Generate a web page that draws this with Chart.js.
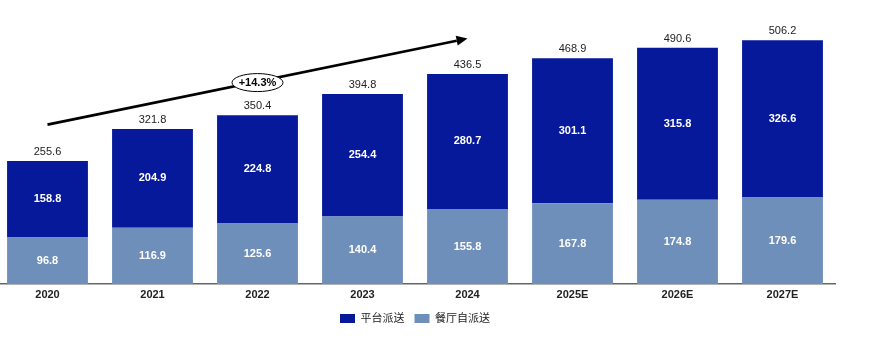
<!DOCTYPE html>
<html>
<head>
<meta charset="utf-8">
<script src="https://cdn.jsdelivr.net/npm/chart.js@4/dist/chart.umd.min.js"></script>
<style>
  html, body { margin: 0; padding: 0; background: #fff; overflow: hidden; }
  #wrap { position: absolute; left: -5px; top: 0; width: 880px; height: 342px; }
</style>
</head>
<body>
<div id="wrap"><canvas id="chart"></canvas></div>
<script>
// Data
const years = ["2020", "2021", "2022", "2023", "2024", "2025E", "2026E", "2027E"];
const restaurantSelf = [96.8, 116.9, 125.6, 140.4, 155.8, 167.8, 174.8, 179.6];
const platform = [158.8, 204.9, 224.8, 254.4, 280.7, 301.1, 315.8, 326.6];
const totals = [255.6, 321.8, 350.4, 394.8, 436.5, 468.9, 490.6, 506.2];

// CAGR arrow (category index, value)
const arrowFrom = [0, 331];
const arrowTo = [4, 510];
const cagrLabel = "+14.3%";

const DARK = "#06199B";
const LIGHT = "#6F8FBB";
const FONT = "'Liberation Sans', Arial, 'Noto Sans CJK SC', sans-serif";

// Labels inside segments and totals above bars
const labelPlugin = {
  id: "labels",
  afterDatasetsDraw(chart) {
    const ctx = chart.ctx;
    ctx.save();
    ctx.textAlign = "center";
    ctx.textBaseline = "middle";
    chart.data.datasets.forEach((ds, di) => {
      const meta = chart.getDatasetMeta(di);
      meta.data.forEach((bar, i) => {
        const mid = (bar.y + bar.base) / 2;
        ctx.fillStyle = "#fff";
        ctx.font = "bold 11px " + FONT;
        ctx.fillText(ds.data[i].toFixed(1), bar.x, mid);
      });
    });
    const top = chart.getDatasetMeta(1);
    top.data.forEach((bar, i) => {
      ctx.fillStyle = "#222";
      ctx.font = "11px " + FONT;
      ctx.fillText(totals[i].toFixed(1), bar.x, bar.y - 9);
    });

    // Arrow
    const x = chart.scales.x, y = chart.scales.y;
    const x1 = x.getPixelForValue(arrowFrom[0]), y1 = y.getPixelForValue(arrowFrom[1]);
    const x2 = x.getPixelForValue(arrowTo[0]), y2 = y.getPixelForValue(arrowTo[1]);
    const ang = Math.atan2(y2 - y1, x2 - x1);
    const head = 11;
    ctx.strokeStyle = "#000";
    ctx.fillStyle = "#000";
    ctx.lineWidth = 2.7;
    ctx.beginPath();
    ctx.moveTo(x1, y1);
    ctx.lineTo(x2 - head * Math.cos(ang), y2 - head * Math.sin(ang));
    ctx.stroke();
    ctx.beginPath();
    ctx.moveTo(x2, y2);
    ctx.lineTo(x2 - head * Math.cos(ang) + 5 * Math.sin(ang), y2 - head * Math.sin(ang) - 5 * Math.cos(ang));
    ctx.lineTo(x2 - head * Math.cos(ang) - 5 * Math.sin(ang), y2 - head * Math.sin(ang) + 5 * Math.cos(ang));
    ctx.closePath();
    ctx.fill();

    // CAGR ellipse at the arrow midpoint
    const mx = (x1 + x2) / 2, my = (y1 + y2) / 2 + 1;
    ctx.beginPath();
    ctx.ellipse(mx, my, 25.5, 9, 0, 0, Math.PI * 2);
    ctx.fillStyle = "#fff";
    ctx.fill();
    ctx.lineWidth = 1;
    ctx.strokeStyle = "#000";
    ctx.stroke();
    ctx.fillStyle = "#000";
    ctx.font = "bold 11px " + FONT;
    ctx.fillText(cagrLabel, mx, my + 0.5);
    ctx.restore();
  }
};

const ctx = document.getElementById("chart").getContext("2d");
new Chart(ctx, {
  type: "bar",
  data: {
    labels: years,
    datasets: [
      {
        label: "餐厅自派送",
        data: restaurantSelf,
        backgroundColor: LIGHT,
        barPercentage: 0.77,
        categoryPercentage: 1
      },
      {
        label: "平台派送",
        data: platform,
        backgroundColor: DARK,
        barPercentage: 0.77,
        categoryPercentage: 1
      }
    ]
  },
  options: {
    responsive: true,
    maintainAspectRatio: false,
    animation: false,
    layout: { padding: { top: 0, right: 40, bottom: 8, left: 0 } },
    plugins: {
      tooltip: { enabled: false },
      legend: {
        position: "bottom",
        reverse: true,
        labels: {
          boxWidth: 15,
          boxHeight: 9,
          padding: 10,
          color: "#222",
          font: { family: FONT, size: 11 }
        }
      }
    },
    scales: {
      x: {
        stacked: true,
        grid: { display: false, drawTicks: false },
        border: { display: true, color: "#666", width: 1.5 },
        ticks: {
          color: "#222",
          padding: 4,
          font: { family: FONT, size: 11, weight: "bold" }
        },
        afterFit(scale) {
          scale.height = 19;
        }
      },
      y: {
        stacked: true,
        display: false,
        min: 0,
        max: 590
      }
    }
  },
  plugins: [labelPlugin]
});
</script>
</body>
</html>
